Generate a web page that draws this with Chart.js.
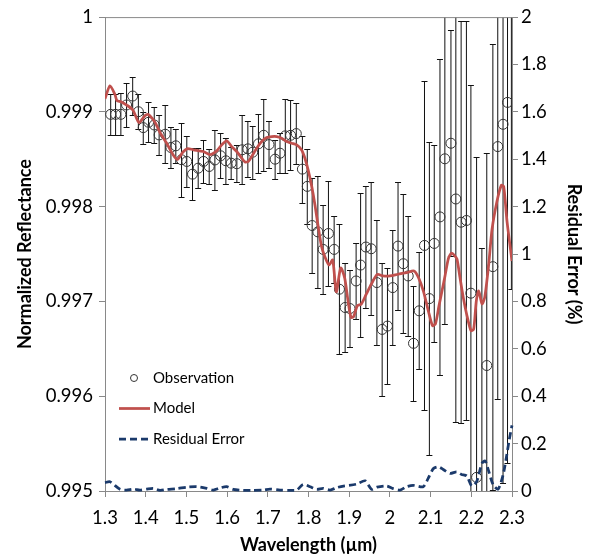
<!DOCTYPE html>
<html><head><meta charset="utf-8">
<script src="https://cdn.jsdelivr.net/npm/chart.js@4"></script>
<style>html,body{margin:0;padding:0;background:#fff}#wrap{width:590px;height:558px}</style>
</head><body><div id="wrap"><canvas id="c" width="590" height="558"></canvas></div>
<script>
// ---- data ----
const obsWavelength = [1.314,1.326,1.339,1.353,1.368,1.382,1.394,1.407,1.421,1.433,
  1.448,1.462,1.474,1.488,1.501,1.515,1.529,1.542,1.556,1.570,
  1.584,1.597,1.610,1.624,1.637,1.651,1.663,1.677,1.690,1.703,
  1.718,1.730,1.743,1.756,1.770,1.785,1.797,1.809,1.823,1.836,
  1.849,1.863,1.876,1.890,1.902,1.917,1.928,1.941,1.954,1.968,
  1.981,1.994,2.007,2.020,2.033,2.045,2.058,2.072,2.085,2.097,
  2.109,2.123,2.135,2.150,2.162,2.175,2.188,2.199,2.213,2.226,
  2.238,2.253,2.265,2.278,2.289,2.2985];
const obsReflectance = [0.998974,0.998974,0.998974,0.999073,0.999167,0.999002,0.998834,0.998890,0.998862,0.998757,
  0.998764,0.998624,0.998642,0.998495,0.998477,0.998343,0.998406,0.998477,0.998424,0.998493,
  0.998537,0.998484,0.998459,0.998453,0.998600,0.998610,0.998575,0.998663,0.998753,0.998655,
  0.998501,0.998564,0.998747,0.998753,0.998771,0.998396,0.998214,0.997801,0.997734,0.997549,
  0.997717,0.997549,0.997129,0.996936,0.996925,0.997216,0.997384,0.997574,0.997556,0.997199,
  0.996705,0.996740,0.997146,0.997584,0.997398,0.997269,0.996558,0.996901,0.997591,0.997030,
  0.997612,0.997892,0.998505,0.998669,0.998081,0.997836,0.997854,0.997087,0.995144,0.994905,
  0.996324,0.997367,0.998634,0.998869,0.999100,1.000300];
const obsError = [0.000215,0.000215,0.000220,0.000236,0.000200,0.000184,0.000168,0.000210,0.000194,0.000210,
  0.000305,0.000220,0.000180,0.000390,0.000273,0.000273,0.000210,0.000228,0.000189,0.000315,
  0.000238,0.000242,0.000168,0.000196,0.000364,0.000294,0.000278,0.000312,0.000378,0.000245,
  0.000205,0.000210,0.000389,0.000368,0.000320,0.000354,0.000396,0.000504,0.000588,0.000473,
  0.000551,0.000357,0.000683,0.000473,0.000410,0.000400,0.000756,0.000640,0.000700,0.000662,
  0.000704,0.000609,0.000609,0.000672,0.000735,0.000630,0.000609,0.000616,0.001738,0.001654,
  0.001040,0.001667,0.001744,0.001191,0.002353,0.002118,0.002108,0.002201,0.003378,0.002661,
  0.002240,0.002353,0.002668,0.003780,0.003800,0.003170];

const modelWavelength = [1.300,1.3123,1.3246,1.3295,1.3393,1.3533,1.3688,1.3835,1.3983,1.4069,
  1.4155,1.4241,1.4351,1.4516,1.4671,1.4776,1.4916,1.5027,1.5170,1.5415,
  1.5580,1.5744,1.5867,1.5990,1.6113,1.6236,1.6359,1.6440,1.6521,1.6604,
  1.6727,1.6850,1.6973,1.7096,1.7219,1.7342,1.7464,1.7587,1.7710,1.7828,
  1.7914,1.7995,1.8079,1.8160,1.8233,1.8319,1.8405,1.8504,1.8595,1.8683,
  1.8791,1.8889,1.8971,1.9044,1.9106,1.9199,1.9297,1.9420,1.9543,1.9690,
  1.9830,2.0002,2.0199,2.0413,2.0592,2.0703,2.0821,2.0944,2.1047,2.1120,
  2.1206,2.1280,2.1354,2.1440,2.1518,2.1600,2.1649,2.1722,2.1803,2.1894,
  2.1993,2.2059,2.2123,2.2182,2.2263,2.2329,2.2428,2.2509,2.2631,2.2737,
  2.2796,2.2877,2.3000];
const modelReflectance = [0.999139,0.999275,0.999181,0.999118,0.999107,0.999072,0.999018,0.998887,0.998960,0.998971,
  0.998934,0.998881,0.998782,0.998669,0.998550,0.998498,0.998577,0.998613,0.998600,0.998582,
  0.998550,0.998589,0.998652,0.998694,0.998634,0.998582,0.998512,0.998472,0.998477,0.998529,
  0.998617,0.998687,0.998729,0.998740,0.998740,0.998722,0.998687,0.998669,0.998652,0.998600,
  0.998508,0.998382,0.998214,0.998015,0.997805,0.997584,0.997468,0.997384,0.997437,0.997101,
  0.997353,0.997248,0.997006,0.996833,0.996838,0.996954,0.996972,0.997077,0.997182,0.997285,
  0.997269,0.997269,0.997287,0.997304,0.997321,0.997251,0.997111,0.996901,0.996744,0.996765,
  0.996954,0.997111,0.997269,0.997458,0.997511,0.997479,0.997447,0.997251,0.997041,0.996849,
  0.996691,0.996709,0.997006,0.997111,0.996975,0.997041,0.997392,0.997759,0.998057,0.998225,
  0.998214,0.997847,0.997426];

const residualWavelength = [1.300,1.312,1.337,1.353,1.370,1.386,1.402,1.419,1.435,1.452,
  1.476,1.501,1.525,1.550,1.566,1.583,1.599,1.615,1.640,1.664,
  1.689,1.705,1.730,1.755,1.771,1.787,1.804,1.820,1.836,1.853,
  1.869,1.886,1.918,1.939,1.955,1.968,1.992,2.008,2.025,2.041,
  2.057,2.082,2.094,2.107,2.119,2.131,2.148,2.164,2.176,2.189,
  2.201,2.213,2.226,2.234,2.242,2.254,2.266,2.278,2.285,2.293,2.300];
const residualError = [0.035,0.039,0.007,0.004,0.008,0.004,0.008,0.011,0.003,0.007,
  0.010,0.016,0.018,0.011,0.004,0.013,0.018,0.007,0.003,0.003,
  0.004,0.008,0.004,0.003,0.004,0.028,0.018,0.007,0.011,0.004,
  0.014,0.021,0.029,0.043,0.007,0.016,0.021,0.010,0.004,0.018,
  0.024,0.018,0.053,0.095,0.102,0.091,0.074,0.081,0.070,0.063,
  0.021,0.039,0.116,0.127,0.088,0.025,0.008,0.067,0.130,0.214,0.277];

const xTickRange = [1.3, 2.3, 0.1];
const yTickRange = [0.995, 1.0, 0.001];
const y2TickRange = [0, 2, 0.2];

// ---- chart ----
const AXIS = '#898989';
const FONT = 'Lato';

const errorBars = {
  id: 'errorBars',
  beforeDatasetsDraw(chart) {
    const {ctx, chartArea: a, scales: {x, y}} = chart;
    ctx.save();
    ctx.beginPath(); ctx.rect(a.left, a.top, a.right - a.left, a.bottom - a.top); ctx.clip();
    ctx.strokeStyle = '#111'; ctx.lineWidth = 1;
    obsWavelength.forEach((w, i) => {
      const px = x.getPixelForValue(w);
      const t = Math.round(y.getPixelForValue(obsReflectance[i] + obsError[i])) + 0.5;
      const b = Math.round(y.getPixelForValue(obsReflectance[i] - obsError[i])) + 0.5;
      ctx.beginPath();
      ctx.moveTo(px, t); ctx.lineTo(px, b);
      ctx.moveTo(px - 3, t); ctx.lineTo(px + 3, t);
      ctx.moveTo(px - 3, b); ctx.lineTo(px + 3, b);
      ctx.stroke();
    });
    ctx.restore();
  }
};

const frameAndLegend = {
  id: 'frameAndLegend',
  afterDraw(chart) {
    const {ctx, chartArea: a} = chart;
    ctx.save();
    ctx.strokeStyle = AXIS; ctx.lineWidth = 1;
    ctx.beginPath(); ctx.moveTo(a.left, a.top + 0.5); ctx.lineTo(a.right, a.top + 0.5); ctx.stroke();
    const ds = chart.data.datasets;
    ctx.font = '15px ' + FONT; ctx.textBaseline = 'middle'; ctx.fillStyle = '#000';
    ds.forEach((d, i) => {
      const yy = 378 + 30.5 * i;
      ctx.save();
      if (i === 0) {
        ctx.strokeStyle = d.borderColor; ctx.lineWidth = 1;
        ctx.beginPath(); ctx.arc(134, yy, 3.5, 0, Math.PI * 2); ctx.stroke();
      } else {
        ctx.strokeStyle = d.borderColor; ctx.lineWidth = d.borderWidth;
        ctx.setLineDash(d.borderDash || []);
        ctx.beginPath(); ctx.moveTo(119, yy); ctx.lineTo(150, yy); ctx.stroke();
      }
      ctx.restore();
      ctx.fillText(d.label, 153, yy);
    });
    ctx.restore();
  }
};

const fmt = (d) => (v) => String(Number(v.toFixed(d)));

new Chart(document.getElementById('c'), {
  type: 'scatter',
  data: {
    datasets: [
      {
        label: 'Observation',
        data: obsWavelength.map((w, i) => ({x: w, y: obsReflectance[i]})),
        yAxisID: 'y', order: 3,
        pointStyle: 'circle', pointRadius: 5, pointBorderWidth: 1,
        borderColor: '#333', backgroundColor: 'rgba(0,0,0,0)',
        showLine: false, clip: 0
      },
      {
        label: 'Model',
        data: modelWavelength.map((w, i) => ({x: w, y: modelReflectance[i]})),
        yAxisID: 'y', order: 2,
        showLine: true, borderColor: '#C0504D', borderWidth: 2.75, pointRadius: 0,
        tension: 0.25, clip: 0
      },
      {
        label: 'Residual Error',
        data: residualWavelength.map((w, i) => ({x: w, y: residualError[i]})),
        yAxisID: 'y2', order: 1,
        showLine: true, borderColor: '#1B3A6B', borderWidth: 2.75, borderDash: [7, 4],
        pointRadius: 0, tension: 0.25, clip: 2
      }
    ]
  },
  options: {
    responsive: false, animation: false, devicePixelRatio: 1,
    layout: {padding: {left: 0, right: 0, top: 15, bottom: 0}},
    plugins: {legend: {display: false}, tooltip: {enabled: false}},
    scales: {
      x: {
        type: 'linear', min: xTickRange[0], max: xTickRange[1],
        afterFit: (s) => { s.height = 67; },
        ticks: {stepSize: xTickRange[2], callback: fmt(1), color: '#000', font: {family: FONT, size: 18.5}, padding: 10, maxRotation: 0},
        grid: {display: true, drawOnChartArea: false, drawTicks: true, tickLength: 6, color: AXIS},
        border: {display: true, color: AXIS},
        title: {display: true, text: 'Wavelength (µm)', color: '#000', font: {family: FONT, size: 18, weight: 'bold'}, padding: {top: 0, bottom: 2}}
      },
      y: {
        type: 'linear', position: 'left', min: yTickRange[0], max: yTickRange[1],
        afterFit: (s) => { s.width = 105; },
        ticks: {stepSize: yTickRange[2], callback: fmt(3), color: '#000', font: {family: FONT, size: 18.5}, padding: 6},
        grid: {display: true, drawOnChartArea: false, drawTicks: true, tickLength: 6, color: AXIS},
        border: {display: true, color: AXIS},
        title: {display: true, text: 'Normalized Reflectance', color: '#000', font: {family: FONT, size: 18, weight: 'bold'}, padding: {top: 14, bottom: 0}}
      },
      y2: {
        type: 'linear', position: 'right', min: y2TickRange[0], max: y2TickRange[1],
        afterFit: (s) => { s.width = 78; },
        ticks: {stepSize: y2TickRange[2], callback: fmt(1), color: '#000', font: {family: FONT, size: 18.5}, padding: 3},
        grid: {display: true, drawOnChartArea: false, drawTicks: true, tickLength: 6, color: AXIS},
        border: {display: true, color: AXIS},
        title: {display: true, text: 'Residual Error (%)', color: '#000', font: {family: FONT, size: 18, weight: 'bold'}, padding: {top: 5, bottom: 0}}
      }
    }
  },
  plugins: [errorBars, frameAndLegend]
});
</script>
</body></html>
